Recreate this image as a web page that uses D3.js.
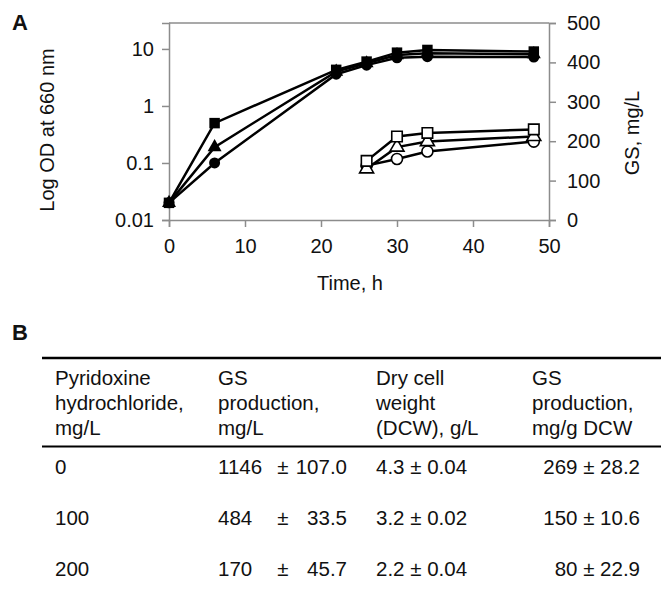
<!DOCTYPE html>
<html>
<head>
<meta charset="utf-8">
<script src="https://cdn.jsdelivr.net/npm/d3@7"></script>
<style>
  body { margin: 0; background: #fff; }
  svg text { font-family: "Liberation Sans", Arial, sans-serif; fill: #111; }
</style>
</head>
<body>
<svg id="fig" width="661" height="593"></svg>
<script>
// panel A: growth (OD, log) and GS production over time
const hours = [0, 6, 22, 26, 30, 34, 48];
const odSquare = [0.02, 0.5, 4.3, 6.0, 8.6, 9.6, 9.0];
const odTriangle = [0.02, 0.19, 4.0, 5.6, 7.8, 8.4, 8.1];
const odCircle = [0.02, 0.1, 3.6, 5.2, 7.0, 7.3, 7.2];

const gsHours = [26, 30, 34, 48];
const gsSquare = [150, 212, 221, 230];
const gsTriangle = [130, 185, 199, 212];
const gsCircle = [138, 155, 174, 199];

const xTicks = [0, 10, 20, 30, 40, 50];
const odTicks = [0.01, 0.1, 1, 10];
const gsTicks = [0, 100, 200, 300, 400, 500];

// panel B: table
const headers = [
    ["Pyridoxine", "hydrochloride,", "mg/L"],
    ["GS", "production,", "mg/L"],
    ["Dry cell", "weight", "(DCW), g/L"],
    ["GS", "production,", "mg/g DCW"]
];
const pyridoxine = ["0", "100", "200"];
const gsProd = ["1146", "484", "170"];
const gsProdErr = ["107.0", "33.5", "45.7"];
const dcw = ["4.3", "3.2", "2.2"];
const dcwErr = ["0.04", "0.02", "0.04"];
const gsPerDcw = ["269", "150", "80"];
const gsPerDcwErr = ["28.2", "10.6", "22.9"];

const svg = d3.select("#fig");
const axisGray = "#8c8c8c";
const fs = 20;

const x = d3.scaleLinear().domain([0, 50]).range([169, 549]);
const yOD = d3.scaleLog().domain([0.01, 28.5]).range([220, 23]);
const yGS = d3.scaleLinear().domain([0, 500]).range([220, 23]);

// frame
svg.append("line").attr("x1", x(0)).attr("x2", x(50)).attr("y1", yGS(500)).attr("y2", yGS(500))
    .attr("stroke", axisGray).attr("stroke-width", 1.5);

const xAxis = svg.append("g").attr("transform", "translate(0,220)")
    .call(d3.axisBottom(x).tickValues(xTicks).tickSize(7).tickPadding(12).tickFormat(d3.format("d")));
const leftAxis = svg.append("g").attr("transform", "translate(169,0)")
    .call(d3.axisLeft(yOD).tickValues(odTicks).tickSize(7).tickPadding(8).tickFormat(d => d >= 1 ? d3.format("d")(d) : String(d)));
const rightAxis = svg.append("g").attr("transform", "translate(549,0)")
    .call(d3.axisRight(yGS).tickValues(gsTicks).tickSize(7).tickPadding(11).tickFormat(d3.format("d")));

[xAxis, leftAxis, rightAxis].forEach(a => {
    a.select(".domain").attr("stroke", axisGray).attr("stroke-width", 1.5);
    a.selectAll(".tick line").attr("stroke", axisGray).attr("stroke-width", 1.5);
    a.selectAll(".tick text").attr("font-size", fs).attr("fill", "#111")
        .style("font-family", "'Liberation Sans', Arial, sans-serif");
});

svg.append("text").attr("transform", "translate(54,130) rotate(-90)")
    .attr("text-anchor", "middle").attr("font-size", fs).text("Log OD at 660 nm");
svg.append("text").attr("transform", "translate(639,133) rotate(-90)")
    .attr("text-anchor", "middle").attr("font-size", fs).text("GS, mg/L");
svg.append("text").attr("x", 350).attr("y", 283).attr("dy", "0.35em")
    .attr("text-anchor", "middle").attr("font-size", fs).text("Time, h");

svg.append("text").attr("x", 12).attr("y", 30).attr("font-size", 22).attr("font-weight", "bold").text("A");
svg.append("text").attr("x", 12).attr("y", 340).attr("font-size", 22).attr("font-weight", "bold").text("B");

const odLine = d3.line().x((d, i) => x(hours[i])).y(d => yOD(d));
const gsLine = d3.line().x((d, i) => x(gsHours[i])).y(d => yGS(d));

const symSquare = d3.symbol().type(d3.symbolSquare).size(110);
const symTriangle = d3.symbol().type(d3.symbolTriangle).size(85);
const symCircle = d3.symbol().type(d3.symbolCircle).size(95);

const odSeries = [
    {vals: odCircle, sym: symCircle},
    {vals: odTriangle, sym: symTriangle},
    {vals: odSquare, sym: symSquare}
];
const gsSeries = [
    {vals: gsCircle, sym: symCircle},
    {vals: gsTriangle, sym: symTriangle},
    {vals: gsSquare, sym: symSquare}
];

gsSeries.forEach(s => {
    svg.append("path").attr("d", gsLine(s.vals)).attr("fill", "none")
        .attr("stroke", "#000").attr("stroke-width", 2.5);
});
gsSeries.forEach(s => {
    svg.append("g").selectAll("path").data(s.vals).enter().append("path")
        .attr("d", s.sym)
        .attr("transform", (d, i) => `translate(${x(gsHours[i])},${yGS(d)})`)
        .attr("fill", "#fff").attr("stroke", "#000").attr("stroke-width", 1.6);
});

odSeries.forEach(s => {
    svg.append("path").attr("d", odLine(s.vals)).attr("fill", "none")
        .attr("stroke", "#000").attr("stroke-width", 2.5);
});
odSeries.forEach(s => {
    svg.append("g").selectAll("path").data(s.vals).enter().append("path")
        .attr("d", s.sym)
        .attr("transform", (d, i) => `translate(${x(hours[i])},${yOD(d)})`)
        .attr("fill", "#000");
});

// table
const tfs = 20.5;
const colX = [55, 218, 376, 532];
const tableLeft = 42, tableRight = 661;
svg.append("line").attr("x1", tableLeft).attr("x2", tableRight).attr("y1", 358).attr("y2", 358)
    .attr("stroke", "#000").attr("stroke-width", 2.5);
svg.append("line").attr("x1", tableLeft).attr("x2", tableRight).attr("y1", 446.5).attr("y2", 446.5)
    .attr("stroke", "#000").attr("stroke-width", 2);

const headerY = [378, 403, 428];
headers.forEach((lines, c) => {
    lines.forEach((t, k) => {
        svg.append("text").attr("x", colX[c]).attr("y", headerY[k]).attr("dy", "0.35em")
            .attr("font-size", tfs).text(t);
    });
});

const rowY = [467, 518, 569];
pyridoxine.forEach((p, r) => {
    const y = rowY[r];
    const t = (xx, s, anchor) => svg.append("text").attr("x", xx).attr("y", y).attr("dy", "0.35em")
        .attr("font-size", tfs).attr("text-anchor", anchor || "start").text(s);
    t(colX[0], p);
    t(colX[1], gsProd[r]);
    t(283, "\u00b1", "middle");
    t(347, gsProdErr[r], "end");
    t(colX[2], dcw[r] + " \u00b1 " + dcwErr[r]);
    t(640, gsPerDcw[r] + " \u00b1 " + gsPerDcwErr[r], "end");
});
</script>
</body>
</html>
